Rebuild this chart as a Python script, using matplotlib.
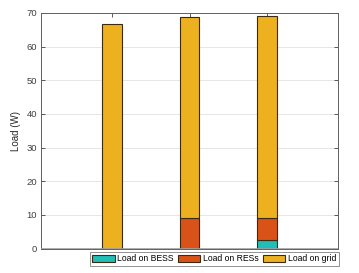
import numpy as np
import matplotlib
matplotlib.use("Agg")
import matplotlib.pyplot as plt

# bar values (W)
positions = [1, 2, 3]
load_bess = [0.0, 0.0, 2.6]
load_res = [0.0, 9.0, 6.4]
load_grid = [66.7, 59.8, 60.0]
series_names = ["Load on BESS", "Load on RESs", "Load on grid"]
colors = ["#1fbfb8", "#d95319", "#edb120"]
y_ticks = [0, 10, 20, 30, 40, 50, 60, 70]

plt.rcParams["font.family"] = ["Liberation Sans", "DejaVu Sans"]

fig = plt.figure(figsize=(3.59, 2.73), dpi=100)
ax = fig.add_axes([41 / 359, 1 - 248.5 / 273, 297 / 359, 235.5 / 273])

bottom = np.zeros(len(positions))
for vals, name, c in zip([load_bess, load_res, load_grid], series_names, colors):
    ax.bar(positions, vals, width=0.25, bottom=bottom, color=c,
           edgecolor="#3a2a10", linewidth=0.8, label=name, zorder=3)
    bottom += np.array(vals)

ax.set_xlim(0.084, 3.916)
ax.set_ylim(0, 70)
ax.set_xticks(positions)
ax.set_xticklabels([])
ax.set_yticks(y_ticks)
ax.tick_params(direction="in", length=3, width=0.6, colors="#404040",
               labelsize=6.8, top=True, right=True, pad=3)
ax.yaxis.grid(True, color="#e6e6e6", linewidth=0.7, zorder=0)
ax.axhline(0, color="#a0a0a0", linewidth=1.2, zorder=4)
for s in ax.spines.values():
    s.set_color("#606060")
    s.set_linewidth(0.7)
ax.set_ylabel("Load (W)", fontsize=7, color="#262626", labelpad=4)

leg = ax.legend(loc="upper right", bbox_to_anchor=(339 / 359, 1 - 251.5 / 273),
                bbox_transform=fig.transFigure, ncol=3, fontsize=6.2,
                frameon=True, fancybox=False, handlelength=2.6, handleheight=0.9,
                handletextpad=0.3, columnspacing=0.5, borderpad=0.3,
                borderaxespad=0)
leg.get_frame().set_edgecolor("#606060")
leg.get_frame().set_linewidth(0.6)

fig.savefig("out.png", dpi=100)
